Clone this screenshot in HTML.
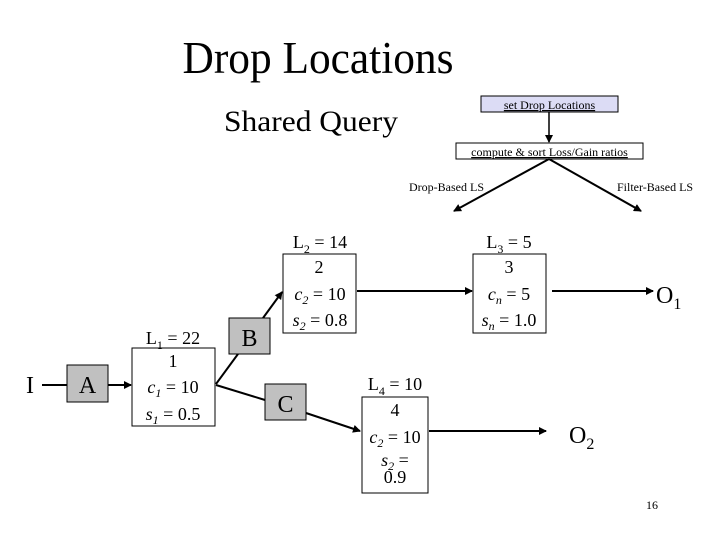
<!DOCTYPE html>
<html><head><meta charset="utf-8"><style>html,body{margin:0;padding:0;background:#fff}svg{display:block}</style></head>
<body>
<svg width="720" height="540" viewBox="0 0 720 540" xmlns="http://www.w3.org/2000/svg" font-family="'Liberation Serif', serif" fill="#000">
<defs><marker id="ar" markerWidth="8" markerHeight="8" refX="7" refY="4" orient="auto" markerUnits="userSpaceOnUse"><path d="M0,0 L8,4 L0,8 z" fill="#000"/></marker></defs>
<text x="318" y="73" font-size="45" text-anchor="middle" textLength="271" lengthAdjust="spacingAndGlyphs">Drop Locations</text>
<text x="311" y="131" font-size="30" text-anchor="middle" textLength="174" lengthAdjust="spacingAndGlyphs">Shared Query</text>

<rect x="481" y="96" width="137" height="16" fill="#dcdcf5" stroke="#000" stroke-width="1"/>
<text x="549.5" y="109" font-size="12" text-anchor="middle" text-decoration="underline">set Drop Locations</text>
<line x1="549" y1="112" x2="549" y2="142" stroke="#000" stroke-width="1.5" marker-end="url(#ar)"/>
<rect x="456" y="143" width="187" height="16" fill="#fff" stroke="#000" stroke-width="1"/>
<text x="549.5" y="156" font-size="12" text-anchor="middle" text-decoration="underline">compute &amp; sort Loss/Gain ratios</text>
<line x1="549" y1="159" x2="454" y2="211" stroke="#000" stroke-width="2" marker-end="url(#ar)"/>
<line x1="549" y1="159" x2="641" y2="211" stroke="#000" stroke-width="2" marker-end="url(#ar)"/>
<text x="409" y="191" font-size="12">Drop-Based LS</text>
<text x="617" y="191" font-size="12">Filter-Based LS</text>

<g stroke="#000" stroke-width="2" fill="none">
<line x1="42" y1="385" x2="67" y2="385"/>
<line x1="108" y1="385" x2="131" y2="385" marker-end="url(#ar)"/>
<line x1="216" y1="384" x2="238" y2="354"/>
<line x1="263" y1="318" x2="282" y2="292" marker-end="url(#ar)"/>
<line x1="216" y1="385" x2="265" y2="400"/>
<line x1="306" y1="413" x2="360" y2="431" marker-end="url(#ar)"/>
<line x1="357" y1="291" x2="472" y2="291" marker-end="url(#ar)"/>
<line x1="552" y1="291" x2="653" y2="291" marker-end="url(#ar)"/>
<line x1="429" y1="431" x2="546" y2="431" marker-end="url(#ar)"/>
</g>

<text x="30" y="393" font-size="24" text-anchor="middle">I</text>
<rect x="67" y="365" width="41" height="37" fill="#c0c0c0" stroke="#000"/>
<text x="87.5" y="393" font-size="24" text-anchor="middle">A</text>
<rect x="229" y="318" width="41" height="36" fill="#c0c0c0" stroke="#000"/>
<text x="249.5" y="346" font-size="24" text-anchor="middle">B</text>
<rect x="265" y="384" width="41" height="36" fill="#c0c0c0" stroke="#000"/>
<text x="285.5" y="412" font-size="24" text-anchor="middle">C</text>

<g font-size="18" text-anchor="middle">
<rect x="132" y="348" width="83" height="78" fill="#fff" stroke="#000"/>
<text x="173" y="344">L<tspan font-size="12" dy="5">1</tspan><tspan dy="-5"> = 22</tspan></text>
<text x="173" y="367">1</text>
<text x="173" y="393"><tspan font-style="italic">c<tspan font-size="12" dy="4">1</tspan></tspan><tspan dy="-4"> = 10</tspan></text>
<text x="173" y="420"><tspan font-style="italic">s<tspan font-size="12" dy="4">1</tspan></tspan><tspan dy="-4"> = 0.5</tspan></text>

<rect x="283" y="254" width="73" height="79" fill="#fff" stroke="#000"/>
<text x="320" y="248">L<tspan font-size="12" dy="5">2</tspan><tspan dy="-5"> = 14</tspan></text>
<text x="319" y="273">2</text>
<text x="320" y="300"><tspan font-style="italic">c<tspan font-size="12" dy="4">2</tspan></tspan><tspan dy="-4"> = 10</tspan></text>
<text x="320" y="326"><tspan font-style="italic">s<tspan font-size="12" dy="4">2</tspan></tspan><tspan dy="-4"> = 0.8</tspan></text>

<rect x="473" y="254" width="73" height="79" fill="#fff" stroke="#000"/>
<text x="509" y="248">L<tspan font-size="12" dy="5">3</tspan><tspan dy="-5"> = 5</tspan></text>
<text x="509" y="273">3</text>
<text x="509" y="300"><tspan font-style="italic">c<tspan font-size="12" dy="4">n</tspan></tspan><tspan dy="-4"> = 5</tspan></text>
<text x="509" y="326"><tspan font-style="italic">s<tspan font-size="12" dy="4">n</tspan></tspan><tspan dy="-4"> = 1.0</tspan></text>

<rect x="362" y="397" width="66" height="96" fill="#fff" stroke="#000"/>
<text x="395" y="390">L<tspan font-size="12" dy="5">4</tspan><tspan dy="-5"> = 10</tspan></text>
<text x="395" y="416">4</text>
<text x="395" y="443"><tspan font-style="italic">c<tspan font-size="12" dy="4">2</tspan></tspan><tspan dy="-4"> = 10</tspan></text>
<text x="395" y="466"><tspan font-style="italic">s<tspan font-size="12" dy="4">2</tspan></tspan><tspan dy="-4"> =</tspan></text>
<text x="395" y="483">0.9</text>
</g>

<text x="656" y="303" font-size="24">O<tspan font-size="16" dy="6">1</tspan></text>
<text x="569" y="443" font-size="24">O<tspan font-size="16" dy="6">2</tspan></text>
<text x="652" y="509" font-size="12" text-anchor="middle">16</text>
</svg>
</body></html>
